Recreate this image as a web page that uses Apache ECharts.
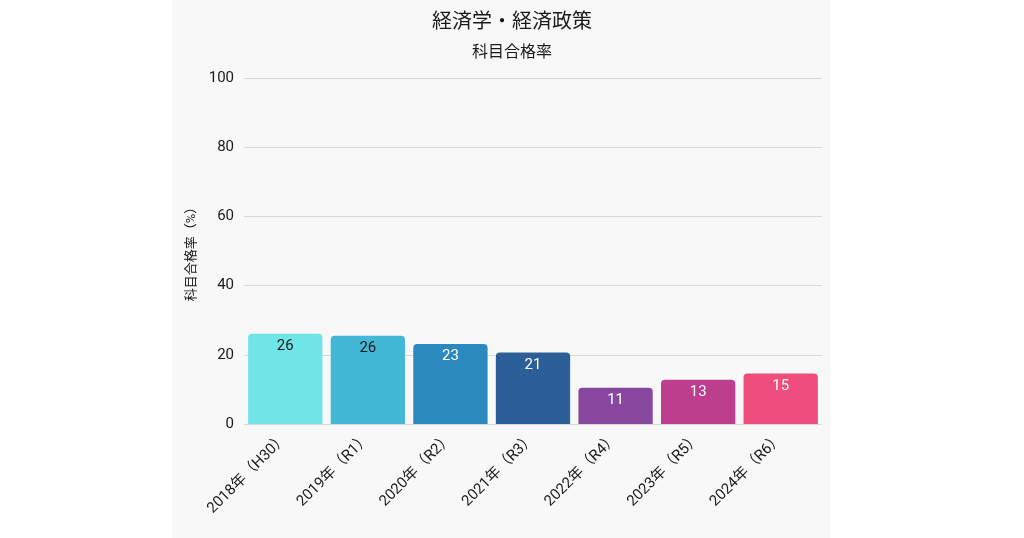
<!DOCTYPE html>
<html>
<head>
<meta charset="utf-8">
<script src="https://cdn.jsdelivr.net/npm/echarts@6/dist/echarts.min.js"></script>
<style>
  html, body { margin: 0; padding: 0; background: #ffffff; }
  #panel { position: absolute; left: 172px; top: 0; width: 658px; height: 538px; background: #f8f8f8; }
  #main { position: absolute; left: 0; top: 0; width: 1024px; height: 538px; }
</style>
</head>
<body>
<div id="panel"></div>
<div id="main"></div>
<script>
// 経済学・経済政策 科目合格率
const years = ['2018年（H30）', '2019年（R1）', '2020年（R2）', '2021年（R3）', '2022年（R4）', '2023年（R5）', '2024年（R6）'];
const passRate = [26.1, 25.5, 23.1, 20.7, 10.5, 12.8, 14.6];
const barColors = ['#6fe5e8', '#42b8d6', '#2c89bd', '#2c5e98', '#87479e', '#bd3e8d', '#ee4d7e'];
const labelColors = ['#1a1a1a', '#1a1a1a', '#ffffff', '#ffffff', '#ffffff', '#ffffff', '#ffffff'];

const font = "Roboto, 'Noto Sans CJK JP', sans-serif";

let dom = document.getElementById('main');
let myChart = echarts.init(dom);

let options = {
    animation: false,
    textStyle: { fontFamily: font },
    title: {
        text: '経済学・経済政策',
        subtext: '科目合格率',
        left: 'center',
        top: 8,
        itemGap: 12,
        textStyle: { fontSize: 20, fontWeight: 'normal', color: '#1a1a1a', fontFamily: font },
        subtextStyle: { fontSize: 16, color: '#1a1a1a', fontFamily: font }
    },
    grid: { left: 244, right: 202, top: 78, bottom: 114 },
    xAxis: {
        type: 'category',
        data: years,
        axisLine: { show: false },
        axisTick: { show: false },
        axisLabel: { rotate: 45, fontSize: 15, color: '#1a1a1a', margin: 12, interval: 0 }
    },
    yAxis: {
        type: 'value',
        min: 0,
        max: 100,
        interval: 20,
        name: '科目合格率（%）',
        nameLocation: 'middle',
        nameGap: 46,
        nameTextStyle: { fontSize: 13, color: '#1a1a1a' },
        axisLabel: { fontSize: 15, color: '#1a1a1a', margin: 10 },
        splitLine: { lineStyle: { color: '#d8d8d8' } }
    },
    series: [{
        type: 'bar',
        barCategoryGap: '10%',
        data: passRate.map((v, i) => ({
            value: v,
            itemStyle: { color: barColors[i], borderRadius: [4, 4, 0, 0] },
            label: { color: labelColors[i] }
        })),
        label: {
            show: true,
            position: 'insideTop',
            distance: 5,
            fontSize: 15,
            formatter: p => Math.round(p.value)
        }
    }]
};

myChart.setOption(options);
</script>
</body>
</html>
